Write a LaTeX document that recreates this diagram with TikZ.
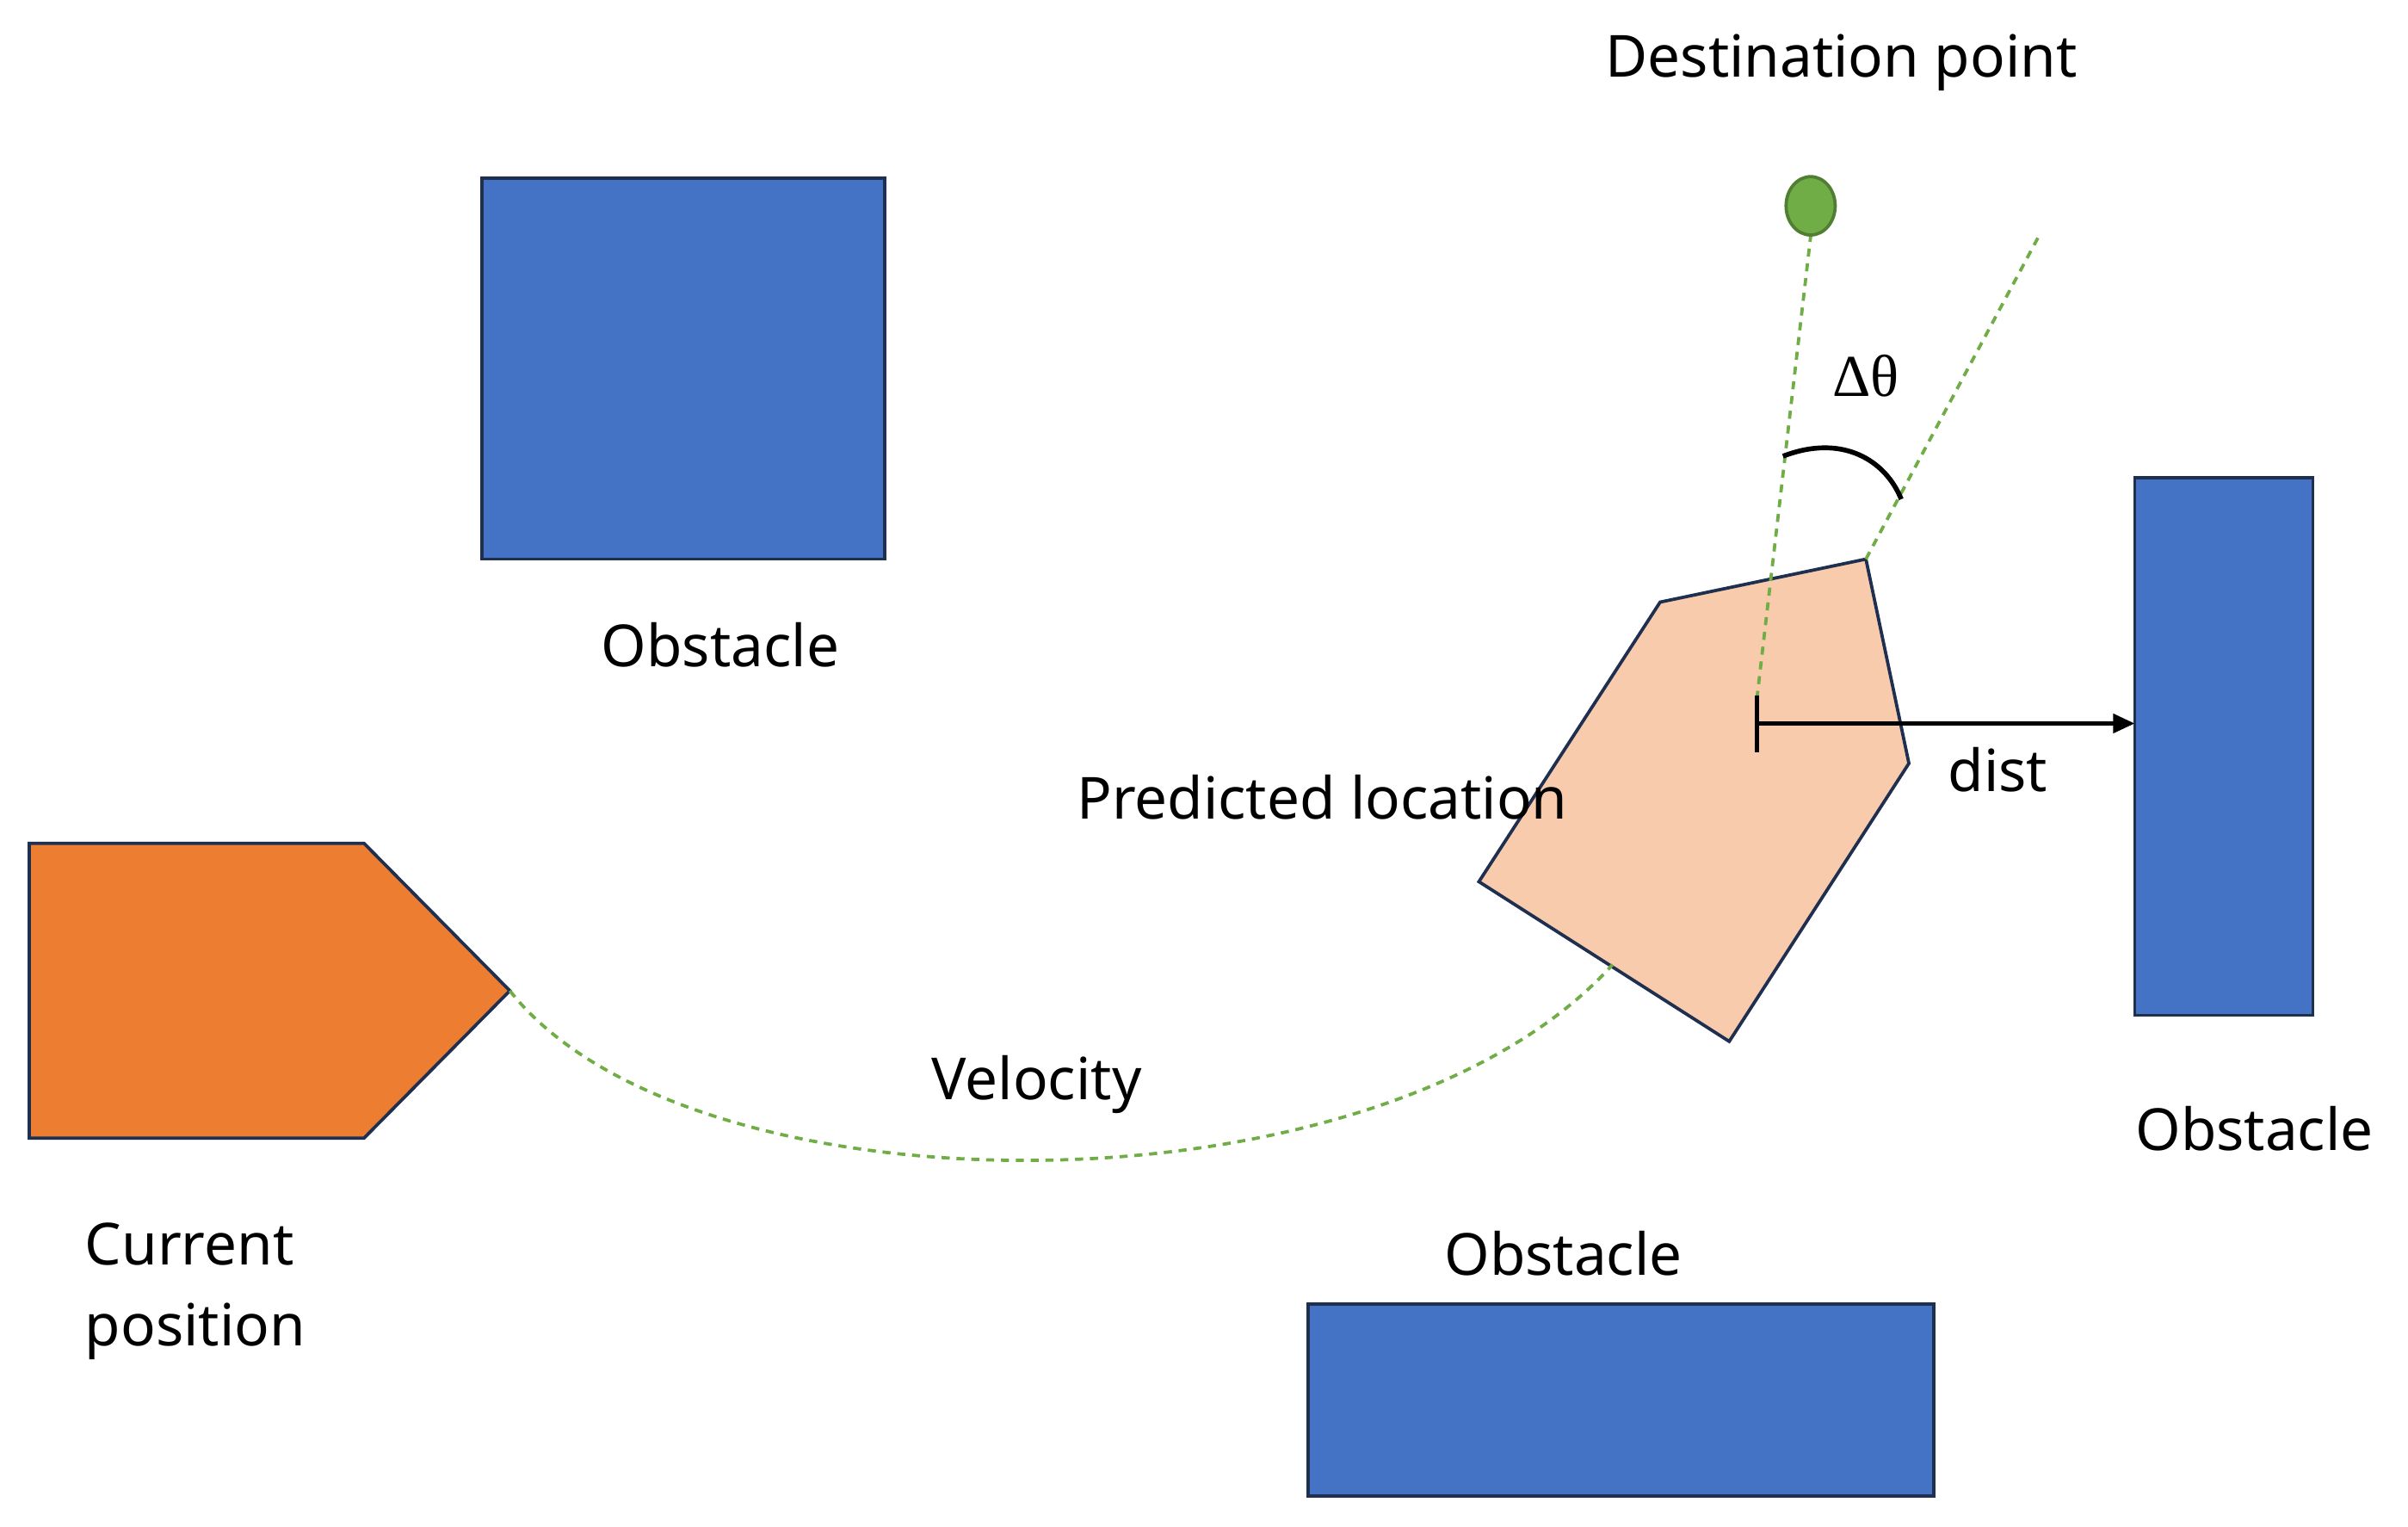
\documentclass[tikz,border=0pt]{standalone}
\usepackage{fontspec}
\setmainfont{Noto Sans}
\newfontfamily\serifd{Liberation Serif}
\usetikzlibrary{arrows.meta,shapes.geometric}
\definecolor{obs}{HTML}{4472C4}
\definecolor{cur}{HTML}{ED7D31}
\definecolor{pred}{HTML}{F8CBAD}
\definecolor{navy}{HTML}{1F2F4F}
\definecolor{grn}{HTML}{70AD47}
\definecolor{grnd}{HTML}{507E32}
\begin{document}
\begin{tikzpicture}[x=0.02cm,y=-0.02cm,
  obstacle/.style={fill=obs,draw=navy,line width=1.2pt},
  lbl/.style={font=\fontsize{21.5}{30}\selectfont,inner sep=0pt},
  gdash/.style={draw=grn,dash pattern=on 3pt off 2.5pt,line width=1.2pt}]
\useasboundingbox (0,0) rectangle (1568,994);
\draw[obstacle] (314,116) rectangle (576,364);
\draw[obstacle] (1390,311) rectangle (1506,661);
\draw[obstacle] (852,849) rectangle (1259,974);
\node[lbl] (o1) at (469,420) {Obstacle};
\node[lbl] (o2) at (1468,735) {Obstacle};
\node[lbl] (o3) at (1018,816) {Obstacle};
\draw[fill=cur,draw=navy,line width=1.2pt] (19,549) -- (237,549) -- (332,645) coordinate (tip) -- (237,741) -- (19,741) -- cycle;
\node[lbl,align=left,anchor=north west] (cp) at (55,796) {Current\\position};
\draw[fill=pred,draw=navy,line width=1.2pt] (1081,392) -- (1215,364) coordinate (pc) -- (1243,497) -- (1126,678) -- (963,574) -- cycle;
\coordinate (vend) at (1050,628);
\coordinate (ctr) at (1144,471);
\node[lbl] (pl) at (861,519) {Predicted location};
\node[ellipse,minimum width=0.64cm,minimum height=0.76cm,fill=grn,draw=grnd,line width=1.2pt,inner sep=0pt] (dp) at (1179,134) {};
\node[lbl] (dpl) at (1199,41) {Destination point};
\coordinate (far) at (1328,153);
\draw[gdash] (1144,455) -- (dp.south);
\draw[gdash] (pc) -- (far);
\draw[black,line width=1.8pt] (1161,297) .. controls (1200,282) and (1228,300) .. (1238,325);
\node[lbl,font=\serifd\fontsize{22}{26}\selectfont] (dt) at (1215,245) {Δθ};
\draw[black,line width=1.5pt] (1144,453) -- (1144,490);
\coordinate (dend) at (1390,471);
\draw[black,line width=1.5pt,-{Triangle[length=8pt,width=7pt]}] (ctr) -- (dend);
\node[lbl] (dist) at (1301,501) {dist};
\draw[gdash] (tip) .. controls (450,795) and (900,795) .. (vend);
\node[lbl] (vel) at (675,706) {Velocity};
\end{tikzpicture}
\end{document}
